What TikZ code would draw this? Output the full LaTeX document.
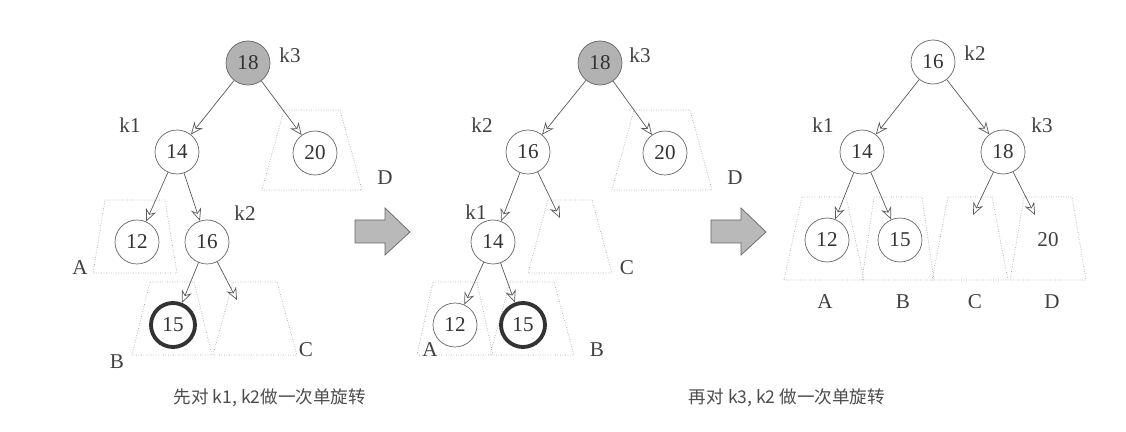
\documentclass[tikz,border=0pt]{standalone}
\usepackage{fontspec}
\setmainfont{Liberation Serif}
\newfontfamily\cjk{Noto Sans CJK SC}
\usetikzlibrary{arrows.meta}
\tikzset{
  key/.style={circle,draw=gray!80!black,minimum size=0.88cm,inner sep=0pt,font=\large,text=black!80},
  rootkey/.style={key,fill=gray!60},
  newkey/.style={key,line width=2.2pt,draw=black!80},
  lbl/.style={font=\large,text=black!75},
  sub/.style={draw=gray!70,densely dotted},
  link/.style={-{Stealth[open,length=7pt,width=6pt]},draw=gray!70!black},
  bigarrow/.style={fill=gray!55,draw=gray!80!black},
}
% subtree: centre x, top y, bottom y, half top, half bottom
\newcommand{\trap}[5]{\draw[sub] (#1-#4,#2) -- (#1+#4,#2) -- (#1+#5,#3) -- (#1-#5,#3) -- cycle;}
% fat arrow: left x
\newcommand{\fatarrow}[1]{\draw[bigarrow] (#1,220) -- (#1+30,220) -- (#1+30,208) -- (#1+55,232) -- (#1+30,255) -- (#1+30,243) -- (#1,243) -- cycle;}
\begin{document}
\begin{tikzpicture}[x=0.02cm,y=-0.02cm]
\useasboundingbox (0,0) rectangle (1126,432);
% --- first tree
\trap{312}{110}{190}{28}{50}
\trap{135}{200}{273}{30}{42}
\trap{172}{282}{355}{22}{40}
\trap{255}{282}{355}{22}{42}
\node[rootkey] (a18) at (248,63) {18};
\node[key] (a14) at (177,152) {14};
\node[key] (a20) at (315,153) {20};
\node[key] (a12) at (137,242) {12};
\node[key] (a16) at (207,242) {16};
\node[newkey] (a15) at (173,325) {15};
\coordinate (aC) at (237,300);
\node[lbl] at (290,55) {k3};
\node[lbl] at (130,125) {k1};
\node[lbl] at (245,213) {k2};
\node[lbl] at (80,268) {A};
\node[lbl] at (117,362) {B};
\node[lbl] at (306,350) {C};
\node[lbl] at (385,178) {D};
\draw[link] (a18) -- (a14);
\draw[link] (a18) -- (a20);
\draw[link] (a14) -- (a12);
\draw[link] (a14) -- (a16);
\draw[link] (a16) -- (a15);
\draw[link] (a16) -- (aC);
% --- second tree
\trap{662}{110}{190}{28}{50}
\trap{570}{200}{273}{22}{42}
\trap{455}{282}{355}{22}{38}
\trap{532}{282}{355}{22}{42}
\node[rootkey] (b18) at (600,63) {18};
\node[key] (b16) at (528,152) {16};
\node[key] (b20) at (665,153) {20};
\node[key] (b14) at (493,242) {14};
\node[key] (b12) at (455,325) {12};
\node[newkey] (b15) at (523,325) {15};
\coordinate (bC) at (560,218);
\node[lbl] at (640,55) {k3};
\node[lbl] at (482,125) {k2};
\node[lbl] at (476,212) {k1};
\node[lbl] at (627,268) {C};
\node[lbl] at (735,178) {D};
\node[lbl] at (430,350) {A};
\node[lbl] at (597,350) {B};
\draw[link] (b18) -- (b16);
\draw[link] (b18) -- (b20);
\draw[link] (b16) -- (b14);
\draw[link] (b16) -- (bC);
\draw[link] (b14) -- (b12);
\draw[link] (b14) -- (b15);
% --- third tree
\trap{824}{197}{280}{22}{40}
\trap{898}{197}{280}{24}{36}
\trap{970}{197}{280}{22}{38}
\trap{1048}{197}{280}{24}{38}
\node[key] (c16) at (933,62) {16};
\node[key] (c14) at (862,152) {14};
\node[key] (c18) at (1003,152) {18};
\node[key] (c12) at (827,240) {12};
\node[key] (c15) at (900,240) {15};
\node[lbl] (c20) at (1048,240) {20};
\coordinate (cC) at (973,215);
\coordinate (cD) at (1035,215);
\node[lbl] at (975,53) {k2};
\node[lbl] at (823,125) {k1};
\node[lbl] at (1042,125) {k3};
\node[lbl] at (825,302) {A};
\node[lbl] at (903,302) {B};
\node[lbl] at (975,302) {C};
\node[lbl] at (1052,302) {D};
\draw[link] (c16) -- (c14);
\draw[link] (c16) -- (c18);
\draw[link] (c14) -- (c12);
\draw[link] (c14) -- (c15);
\draw[link] (c18) -- (cC);
\draw[link] (c18) -- (cD);
% --- big arrows
\fatarrow{355}
\fatarrow{711}
% --- captions
\node[text=black!70] (cap1) at (270,398) {\cjk 先对 k1, k2做一次单旋转};
\node[text=black!70] (cap2) at (787,398) {\cjk 再对 k3, k2 做一次单旋转};
\end{tikzpicture}
\end{document}
